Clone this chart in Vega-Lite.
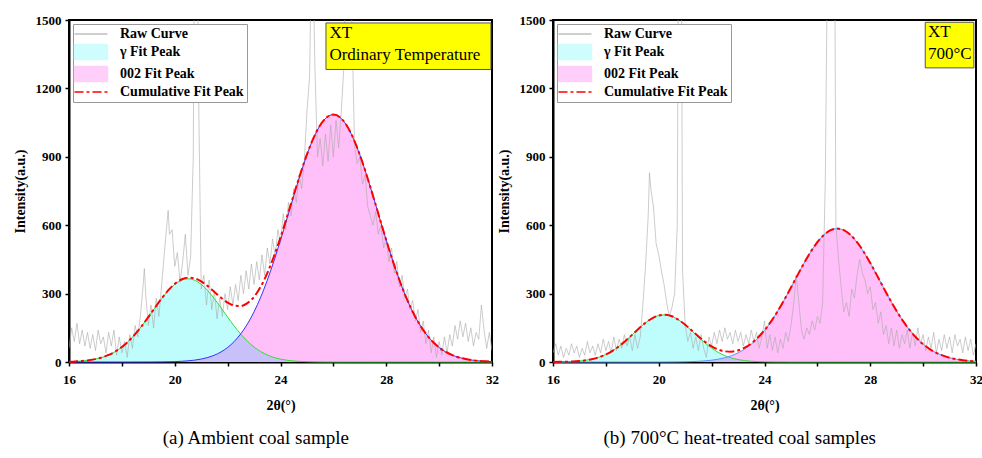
{
 "$schema": "https://vega.github.io/schema/vega-lite/v6.json",
 "padding": {"left": 12, "top": 13, "right": 0, "bottom": 0},
 "config": {
  "font": "Liberation Serif",
  "view": {"stroke": "black", "strokeWidth": 2},
  "axis": {"labelFont": "Liberation Serif", "labelFontWeight": "bold", "labelFontSize": 13, "labelColor": "black", "titleFont": "Liberation Serif", "titleFontWeight": "bold", "titleFontSize": 14, "titleColor": "black", "domainColor": "black", "domainWidth": 2, "tickColor": "black", "tickWidth": 1.5, "tickSize": 4, "grid": false, "labelPadding": 4},
  "axisX": {"labelPadding": 7, "titlePadding": 12},
  "legend": {"labelFont": "Liberation Serif", "labelFontWeight": "bold", "labelFontSize": 14, "labelColor": "black", "strokeColor": "#999999", "fillColor": "white", "padding": 3, "orient": "top-left", "offset": 4, "symbolSize": 1089, "rowPadding": 0, "labelOffset": 22, "symbolOffset": 8}
 },
 "datasets": {
  "fitA": [
   {"x":16,"g":1.4,"p":0,"c":1.4,"o":0},{"x":16.25,"g":2.6,"p":0,"c":2.6,"o":0},{"x":16.5,"g":4.5,"p":0,"c":4.5,"o":0},{"x":16.75,"g":7.7,"p":0,"c":7.7,"o":0},
   {"x":17,"g":12.7,"p":0,"c":12.7,"o":0},{"x":17.25,"g":20.1,"p":0,"c":20.1,"o":0},{"x":17.5,"g":30.9,"p":0,"c":30.9,"o":0},{"x":17.75,"g":45.8,"p":0,"c":45.8,"o":0},
   {"x":18,"g":65.7,"p":0,"c":65.7,"o":0},{"x":18.25,"g":91,"p":0,"c":91,"o":0},{"x":18.5,"g":121.8,"p":0.1,"c":121.9,"o":0.1},{"x":18.75,"g":157.6,"p":0.1,"c":157.7,"o":0.1},
   {"x":19,"g":196.9,"p":0.2,"c":197.1,"o":0.2},{"x":19.25,"g":237.8,"p":0.3,"c":238.1,"o":0.3},{"x":19.5,"g":277.4,"p":0.6,"c":278,"o":0.6},{"x":19.75,"g":312.8,"p":1,"c":313.8,"o":1},
   {"x":20,"g":340.8,"p":1.8,"c":342.6,"o":1.8},{"x":20.25,"g":358.8,"p":3.1,"c":361.9,"o":3.1},{"x":20.5,"g":365,"p":5.1,"c":370.1,"o":5.1},{"x":20.75,"g":358.8,"p":8.2,"c":367,"o":8.2},
   {"x":21,"g":340.8,"p":12.9,"c":353.7,"o":12.9},{"x":21.25,"g":312.8,"p":19.9,"c":332.7,"o":19.9},{"x":21.5,"g":277.4,"p":30,"c":307.4,"o":30},{"x":21.75,"g":237.8,"p":44.2,"c":282,"o":44.2},
   {"x":22,"g":196.9,"p":63.8,"c":260.7,"o":63.8},{"x":22.25,"g":157.6,"p":89.9,"c":247.5,"o":89.9},{"x":22.5,"g":121.8,"p":123.9,"c":245.7,"o":121.8},{"x":22.75,"g":91,"p":167.1,"c":258.1,"o":91},
   {"x":23,"g":65.7,"p":220.3,"c":286,"o":65.7},{"x":23.25,"g":45.8,"p":284.2,"c":330,"o":45.8},{"x":23.5,"g":30.9,"p":358.6,"c":389.5,"o":30.9},{"x":23.75,"g":20.1,"p":442.6,"c":462.7,"o":20.1},
   {"x":24,"g":12.7,"p":534.2,"c":546.9,"o":12.7},{"x":24.25,"g":7.7,"p":630.7,"c":638.4,"o":7.7},{"x":24.5,"g":4.5,"p":728.4,"c":732.9,"o":4.5},{"x":24.75,"g":2.6,"p":822.6,"c":825.2,"o":2.6},
   {"x":25,"g":1.4,"p":908.9,"c":910.3,"o":1.4},{"x":25.25,"g":0.7,"p":982.1,"c":982.8,"o":0.7},{"x":25.5,"g":0.4,"p":1038,"c":1038.4,"o":0.4},{"x":25.75,"g":0.2,"p":1073.1,"c":1073.3,"o":0.2},
   {"x":26,"g":0,"p":1085,"c":1085,"o":0},{"x":26.25,"g":0,"p":1073.1,"c":1073.1,"o":0},{"x":26.5,"g":0,"p":1038,"c":1038,"o":0},{"x":26.75,"g":0,"p":982.1,"c":982.1,"o":0},
   {"x":27,"g":0,"p":908.9,"c":908.9,"o":0},{"x":27.25,"g":0,"p":822.6,"c":822.6,"o":0},{"x":27.5,"g":0,"p":728.4,"c":728.4,"o":0},{"x":27.75,"g":0,"p":630.7,"c":630.7,"o":0},
   {"x":28,"g":0,"p":534.2,"c":534.2,"o":0},{"x":28.25,"g":0,"p":442.6,"c":442.6,"o":0},{"x":28.5,"g":0,"p":358.6,"c":358.6,"o":0},{"x":28.75,"g":0,"p":284.2,"c":284.2,"o":0},
   {"x":29,"g":0,"p":220.3,"c":220.3,"o":0},{"x":29.25,"g":0,"p":167.1,"c":167.1,"o":0},{"x":29.5,"g":0,"p":123.9,"c":123.9,"o":0},{"x":29.75,"g":0,"p":89.9,"c":89.9,"o":0},
   {"x":30,"g":0,"p":63.8,"c":63.8,"o":0},{"x":30.25,"g":0,"p":44.2,"c":44.2,"o":0},{"x":30.5,"g":0,"p":30,"c":30,"o":0},{"x":30.75,"g":0,"p":19.9,"c":19.9,"o":0},
   {"x":31,"g":0,"p":12.9,"c":12.9,"o":0},{"x":31.25,"g":0,"p":8.2,"c":8.2,"o":0},{"x":31.5,"g":0,"p":5.1,"c":5.1,"o":0},{"x":31.75,"g":0,"p":3.1,"c":3.1,"o":0},
   {"x":32,"g":0,"p":1.8,"c":1.8,"o":0}
  ],
  "fitB": [
   {"x":16,"g":0.3,"p":0,"c":0.3,"o":0},{"x":16.25,"g":0.6,"p":0,"c":0.6,"o":0},{"x":16.5,"g":1.2,"p":0,"c":1.2,"o":0},{"x":16.75,"g":2.3,"p":0,"c":2.3,"o":0},
   {"x":17,"g":4.3,"p":0,"c":4.3,"o":0},{"x":17.25,"g":7.7,"p":0,"c":7.7,"o":0},{"x":17.5,"g":13.2,"p":0,"c":13.2,"o":0},{"x":17.75,"g":21.4,"p":0,"c":21.4,"o":0},
   {"x":18,"g":33.2,"p":0,"c":33.2,"o":0},{"x":18.25,"g":49.2,"p":0,"c":49.2,"o":0},{"x":18.5,"g":69.4,"p":0,"c":69.4,"o":0},{"x":18.75,"g":93.5,"p":0,"c":93.5,"o":0},
   {"x":19,"g":120.1,"p":0,"c":120.1,"o":0},{"x":19.25,"g":147.2,"p":0,"c":147.2,"o":0},{"x":19.5,"g":172,"p":0,"c":172,"o":0},{"x":19.75,"g":191.7,"p":0,"c":191.7,"o":0},
   {"x":20,"g":203.9,"p":0.1,"c":204,"o":0.1},{"x":20.25,"g":206.8,"p":0.2,"c":207,"o":0.2},{"x":20.5,"g":200.1,"p":0.3,"c":200.4,"o":0.3},{"x":20.75,"g":184.6,"p":0.6,"c":185.2,"o":0.6},
   {"x":21,"g":162.5,"p":1.1,"c":163.6,"o":1.1},{"x":21.25,"g":136.4,"p":1.8,"c":138.2,"o":1.8},{"x":21.5,"g":109.3,"p":3.1,"c":112.4,"o":3.1},{"x":21.75,"g":83.5,"p":5,"c":88.5,"o":5},
   {"x":22,"g":60.8,"p":8,"c":68.8,"o":8},{"x":22.25,"g":42.3,"p":12.4,"c":54.7,"o":12.4},{"x":22.5,"g":28,"p":18.8,"c":46.8,"o":18.8},{"x":22.75,"g":17.7,"p":27.8,"c":45.5,"o":17.7},
   {"x":23,"g":10.7,"p":40.1,"c":50.8,"o":10.7},{"x":23.25,"g":6.1,"p":56.7,"c":62.8,"o":6.1},{"x":23.5,"g":3.4,"p":78.2,"c":81.6,"o":3.4},{"x":23.75,"g":1.8,"p":105.4,"c":107.2,"o":1.8},
   {"x":24,"g":0.9,"p":138.5,"c":139.4,"o":0.9},{"x":24.25,"g":0.4,"p":177.9,"c":178.3,"o":0.4},{"x":24.5,"g":0.2,"p":223.1,"c":223.3,"o":0.2},{"x":24.75,"g":0.1,"p":273.1,"c":273.2,"o":0.1},
   {"x":25,"g":0,"p":326.4,"c":326.4,"o":0},{"x":25.25,"g":0,"p":381.1,"c":381.1,"o":0},{"x":25.5,"g":0,"p":434.4,"c":434.4,"o":0},{"x":25.75,"g":0,"p":483.6,"c":483.6,"o":0},
   {"x":26,"g":0,"p":525.6,"c":525.6,"o":0},{"x":26.25,"g":0,"p":557.8,"c":557.8,"o":0},{"x":26.5,"g":0,"p":578.1,"c":578.1,"o":0},{"x":26.75,"g":0,"p":585,"c":585,"o":0},
   {"x":27,"g":0,"p":578.1,"c":578.1,"o":0},{"x":27.25,"g":0,"p":557.8,"c":557.8,"o":0},{"x":27.5,"g":0,"p":525.6,"c":525.6,"o":0},{"x":27.75,"g":0,"p":483.6,"c":483.6,"o":0},
   {"x":28,"g":0,"p":434.4,"c":434.4,"o":0},{"x":28.25,"g":0,"p":381.1,"c":381.1,"o":0},{"x":28.5,"g":0,"p":326.4,"c":326.4,"o":0},{"x":28.75,"g":0,"p":273.1,"c":273.1,"o":0},
   {"x":29,"g":0,"p":223.1,"c":223.1,"o":0},{"x":29.25,"g":0,"p":177.9,"c":177.9,"o":0},{"x":29.5,"g":0,"p":138.5,"c":138.5,"o":0},{"x":29.75,"g":0,"p":105.4,"c":105.4,"o":0},
   {"x":30,"g":0,"p":78.2,"c":78.2,"o":0},{"x":30.25,"g":0,"p":56.7,"c":56.7,"o":0},{"x":30.5,"g":0,"p":40.1,"c":40.1,"o":0},{"x":30.75,"g":0,"p":27.8,"c":27.8,"o":0},
   {"x":31,"g":0,"p":18.8,"c":18.8,"o":0},{"x":31.25,"g":0,"p":12.4,"c":12.4,"o":0},{"x":31.5,"g":0,"p":8,"c":8,"o":0},{"x":31.75,"g":0,"p":5,"c":5,"o":0},
   {"x":32,"g":0,"p":3.1,"c":3.1,"o":0}
  ],
  "rawA": [
   {"x":16.0,"y":60},{"x":16.1,"y":150},{"x":16.2,"y":90},{"x":16.3,"y":170},{"x":16.4,"y":80},{"x":16.5,"y":140},{"x":16.6,"y":70},{"x":16.7,"y":130},{"x":16.8,"y":60},{"x":16.9,"y":120},
   {"x":17.0,"y":50},{"x":17.1,"y":140},{"x":17.2,"y":80},{"x":17.3,"y":110},{"x":17.4,"y":40},{"x":17.5,"y":130},{"x":17.6,"y":70},{"x":17.7,"y":140},{"x":17.8,"y":30},{"x":17.9,"y":110},
   {"x":18.0,"y":40},{"x":18.1,"y":90},{"x":18.2,"y":20},{"x":18.3,"y":120},{"x":18.4,"y":60},{"x":18.5,"y":160},{"x":18.6,"y":110},{"x":18.7,"y":200},{"x":18.8,"y":330},{"x":18.85,"y":410},{"x":18.9,"y":300},
   {"x":19.0,"y":160},{"x":19.1,"y":250},{"x":19.2,"y":150},{"x":19.3,"y":280},{"x":19.4,"y":200},{"x":19.5,"y":330},{"x":19.6,"y":470},{"x":19.7,"y":600},{"x":19.75,"y":665},{"x":19.8,"y":560},{"x":19.9,"y":580},
   {"x":20.0,"y":420},{"x":20.1,"y":480},{"x":20.2,"y":350},{"x":20.3,"y":440},{"x":20.4,"y":560},{"x":20.5,"y":380},{"x":20.6,"y":460},{"x":20.7,"y":900},{"x":20.75,"y":2000},{"x":20.85,"y":2000},{"x":20.9,"y":1200},
   {"x":21.0,"y":320},{"x":21.1,"y":380},{"x":21.2,"y":250},{"x":21.3,"y":360},{"x":21.4,"y":230},{"x":21.5,"y":310},{"x":21.6,"y":190},{"x":21.7,"y":280},{"x":21.8,"y":200},{"x":21.9,"y":300},
   {"x":22.0,"y":230},{"x":22.1,"y":330},{"x":22.2,"y":250},{"x":22.3,"y":340},{"x":22.4,"y":270},{"x":22.5,"y":380},{"x":22.6,"y":300},{"x":22.7,"y":400},{"x":22.8,"y":320},{"x":22.9,"y":430},
   {"x":23.0,"y":340},{"x":23.1,"y":440},{"x":23.2,"y":360},{"x":23.3,"y":470},{"x":23.4,"y":380},{"x":23.5,"y":500},{"x":23.6,"y":430},{"x":23.7,"y":540},{"x":23.8,"y":460},{"x":23.9,"y":580},
   {"x":24.0,"y":520},{"x":24.1,"y":650},{"x":24.2,"y":580},{"x":24.3,"y":700},{"x":24.4,"y":640},{"x":24.5,"y":760},{"x":24.6,"y":700},{"x":24.7,"y":820},{"x":24.8,"y":760},{"x":24.9,"y":880},
   {"x":25.0,"y":1100},{"x":25.1,"y":1250},{"x":25.2,"y":2000},{"x":25.3,"y":1300},{"x":25.4,"y":900},{"x":25.5,"y":980},{"x":25.6,"y":860},{"x":25.7,"y":1000},{"x":25.8,"y":880},{"x":25.9,"y":1040},
   {"x":26.0,"y":900},{"x":26.1,"y":1060},{"x":26.2,"y":940},{"x":26.3,"y":1100},{"x":26.4,"y":1300},{"x":26.5,"y":2000},{"x":26.6,"y":2000},{"x":26.7,"y":1500},{"x":26.8,"y":950},{"x":26.9,"y":870},
   {"x":27.0,"y":900},{"x":27.1,"y":780},{"x":27.2,"y":820},{"x":27.3,"y":680},{"x":27.4,"y":640},{"x":27.5,"y":600},{"x":27.6,"y":660},{"x":27.7,"y":560},{"x":27.8,"y":600},{"x":27.9,"y":500},
   {"x":28.0,"y":540},{"x":28.1,"y":440},{"x":28.2,"y":500},{"x":28.3,"y":390},{"x":28.4,"y":440},{"x":28.5,"y":330},{"x":28.6,"y":380},{"x":28.7,"y":280},{"x":28.8,"y":320},{"x":28.9,"y":230},
   {"x":29.0,"y":270},{"x":29.1,"y":180},{"x":29.2,"y":230},{"x":29.3,"y":130},{"x":29.4,"y":180},{"x":29.5,"y":80},{"x":29.6,"y":140},{"x":29.7,"y":40},{"x":29.8,"y":110},{"x":29.9,"y":20},
   {"x":30.0,"y":90},{"x":30.1,"y":30},{"x":30.2,"y":110},{"x":30.3,"y":40},{"x":30.4,"y":120},{"x":30.5,"y":70},{"x":30.6,"y":160},{"x":30.7,"y":100},{"x":30.8,"y":180},{"x":30.9,"y":110},
   {"x":31.0,"y":170},{"x":31.1,"y":90},{"x":31.2,"y":150},{"x":31.3,"y":70},{"x":31.4,"y":130},{"x":31.5,"y":100},{"x":31.6,"y":250},{"x":31.7,"y":140},{"x":31.8,"y":60},{"x":31.9,"y":130},{"x":32.0,"y":50}
  ],
  "rawB": [
   {"x":16.0,"y":40},{"x":16.1,"y":80},{"x":16.2,"y":30},{"x":16.3,"y":70},{"x":16.4,"y":20},{"x":16.5,"y":60},{"x":16.6,"y":30},{"x":16.7,"y":80},{"x":16.8,"y":40},{"x":16.9,"y":70},
   {"x":17.0,"y":20},{"x":17.1,"y":60},{"x":17.2,"y":30},{"x":17.3,"y":90},{"x":17.4,"y":40},{"x":17.5,"y":70},{"x":17.6,"y":30},{"x":17.7,"y":80},{"x":17.8,"y":40},{"x":17.9,"y":100},
   {"x":18.0,"y":50},{"x":18.1,"y":90},{"x":18.2,"y":40},{"x":18.3,"y":110},{"x":18.4,"y":50},{"x":18.5,"y":100},{"x":18.6,"y":60},{"x":18.7,"y":120},{"x":18.8,"y":70},{"x":18.9,"y":110},
   {"x":19.0,"y":50},{"x":19.1,"y":120},{"x":19.2,"y":60},{"x":19.3,"y":110},{"x":19.4,"y":250},{"x":19.5,"y":420},{"x":19.6,"y":640},{"x":19.65,"y":830},{"x":19.7,"y":760},{"x":19.8,"y":680},{"x":19.9,"y":520},
   {"x":20.0,"y":470},{"x":20.1,"y":400},{"x":20.2,"y":340},{"x":20.3,"y":260},{"x":20.4,"y":200},{"x":20.5,"y":240},{"x":20.6,"y":300},{"x":20.7,"y":600},{"x":20.75,"y":2000},{"x":20.85,"y":2000},{"x":20.9,"y":400},
   {"x":21.0,"y":160},{"x":21.1,"y":90},{"x":21.2,"y":130},{"x":21.3,"y":60},{"x":21.4,"y":110},{"x":21.5,"y":50},{"x":21.6,"y":120},{"x":21.7,"y":60},{"x":21.8,"y":20},{"x":21.9,"y":110},
   {"x":22.0,"y":70},{"x":22.1,"y":130},{"x":22.2,"y":80},{"x":22.3,"y":140},{"x":22.4,"y":90},{"x":22.5,"y":150},{"x":22.6,"y":100},{"x":22.7,"y":130},{"x":22.8,"y":80},{"x":22.9,"y":140},
   {"x":23.0,"y":90},{"x":23.1,"y":130},{"x":23.2,"y":70},{"x":23.3,"y":120},{"x":23.4,"y":80},{"x":23.5,"y":140},{"x":23.6,"y":90},{"x":23.7,"y":130},{"x":23.8,"y":60},{"x":23.9,"y":110},
   {"x":24.0,"y":180},{"x":24.1,"y":60},{"x":24.2,"y":120},{"x":24.3,"y":50},{"x":24.4,"y":110},{"x":24.5,"y":40},{"x":24.6,"y":100},{"x":24.7,"y":60},{"x":24.8,"y":130},{"x":24.9,"y":90},
   {"x":25.0,"y":160},{"x":25.1,"y":250},{"x":25.2,"y":380},{"x":25.3,"y":260},{"x":25.4,"y":140},{"x":25.5,"y":100},{"x":25.6,"y":150},{"x":25.7,"y":120},{"x":25.8,"y":180},{"x":25.9,"y":140},
   {"x":26.0,"y":200},{"x":26.1,"y":170},{"x":26.2,"y":260},{"x":26.3,"y":800},{"x":26.4,"y":2000},{"x":26.65,"y":2000},{"x":26.7,"y":600},{"x":26.8,"y":450},{"x":26.9,"y":330},
   {"x":27.0,"y":220},{"x":27.1,"y":260},{"x":27.2,"y":200},{"x":27.3,"y":320},{"x":27.4,"y":280},{"x":27.5,"y":380},{"x":27.6,"y":450},{"x":27.7,"y":390},{"x":27.8,"y":360},{"x":27.9,"y":300},
   {"x":28.0,"y":330},{"x":28.1,"y":230},{"x":28.2,"y":260},{"x":28.3,"y":170},{"x":28.4,"y":220},{"x":28.5,"y":120},{"x":28.6,"y":160},{"x":28.7,"y":80},{"x":28.8,"y":150},{"x":28.9,"y":70},
   {"x":29.0,"y":140},{"x":29.1,"y":60},{"x":29.2,"y":120},{"x":29.3,"y":80},{"x":29.4,"y":140},{"x":29.5,"y":60},{"x":29.6,"y":130},{"x":29.7,"y":70},{"x":29.8,"y":150},{"x":29.9,"y":80},
   {"x":30.0,"y":120},{"x":30.1,"y":50},{"x":30.2,"y":110},{"x":30.3,"y":60},{"x":30.4,"y":130},{"x":30.5,"y":40},{"x":30.6,"y":100},{"x":30.7,"y":50},{"x":30.8,"y":120},{"x":30.9,"y":60},
   {"x":31.0,"y":110},{"x":31.1,"y":40},{"x":31.2,"y":120},{"x":31.3,"y":70},{"x":31.4,"y":100},{"x":31.5,"y":40},{"x":31.6,"y":110},{"x":31.7,"y":50},{"x":31.8,"y":100},{"x":31.9,"y":30},{"x":32.0,"y":80}
  ]
 },
 "spacing": -4,
 "resolve": {"scale": {"color": "independent"}, "legend": {"color": "independent"}},
 "hconcat": [
  {
   "width": 423, "height": 342,
   "title": {"text": "(a) Ambient coal sample", "orient": "bottom", "anchor": "middle", "frame": "bounds", "font": "Liberation Serif", "fontSize": 19, "fontWeight": "normal", "color": "black", "offset": 17},
   "layer": [
    {"data": {"name": "fitA"}, "mark": {"type": "area", "interpolate": "monotone"},
     "encoding": {
      "x": {"field": "x", "type": "quantitative", "title": "2θ(°)", "scale": {"domain": [16, 32], "nice": false},
            "axis": {"values": [16,18,20,22,24,26,28,30,32], "labelExpr": "datum.value % 4 === 0 ? datum.label : ''", "labelFlush": false}},
      "y": {"field": "g", "type": "quantitative", "title": "Intensity(a.u.)", "scale": {"domain": [0, 1500], "nice": false},
            "axis": {"values": [0,150,300,450,600,750,900,1050,1200,1350,1500], "labelExpr": "datum.value % 300 === 0 ? datum.label : ''", "format": "d", "titlePadding": 8}},
      "color": {"datum": "γ Fit Peak", "type": "nominal",
                "scale": {"domain": ["Raw Curve", "γ Fit Peak", "002 Fit Peak", "Cumulative Fit Peak"], "range": ["#aaaaaa", "#bffcfc", "#ffbff8", "#ff0000"]},
                "legend": {"title": null,
                  "symbolType": {"expr": "(datum.value === 'γ Fit Peak' || datum.value === '002 Fit Peak') ? 'M-1,-0.46H1V0.46H-1Z' : 'stroke'"},
                  "symbolStrokeColor": {"expr": "datum.value === 'Raw Curve' ? '#c4c4c4' : datum.value === 'γ Fit Peak' ? '#44ee66' : datum.value === '002 Fit Peak' ? '#4444ff' : '#ff0000'"},
                  "symbolFillColor": {"expr": "datum.value === 'γ Fit Peak' ? '#bffcfc' : datum.value === '002 Fit Peak' ? '#ffbff8' : 'transparent'"},
                  "symbolDash": {"expr": "datum.value === 'Cumulative Fit Peak' ? [9, 3, 3, 3] : [1, 0]"},
                  "symbolStrokeWidth": {"expr": "datum.value === 'Cumulative Fit Peak' ? 2 : 1.5"},
                  "symbolOpacity": 1}}
     }},
    {"data": {"name": "fitA"}, "mark": {"type": "area", "interpolate": "monotone"},
     "encoding": {"x": {"field": "x", "type": "quantitative", "title": "2θ(°)"}, "y": {"field": "p", "type": "quantitative", "title": "Intensity(a.u.)", "scale": {"domain": [0, 1500]}}, "color": {"datum": "002 Fit Peak", "type": "nominal"}}},
    {"data": {"name": "fitA"}, "mark": {"type": "area", "interpolate": "monotone", "color": "#c8c0f8"},
     "encoding": {"x": {"field": "x", "type": "quantitative", "title": "2θ(°)"}, "y": {"field": "o", "type": "quantitative", "title": "Intensity(a.u.)", "scale": {"domain": [0, 1500]}}}},
    {"data": {"name": "rawA"}, "mark": {"type": "line", "clip": true, "strokeWidth": 0.8, "opacity": 0.75},
     "encoding": {"x": {"field": "x", "type": "quantitative", "title": "2θ(°)"}, "y": {"field": "y", "type": "quantitative", "title": "Intensity(a.u.)", "scale": {"domain": [0, 1500]}}, "color": {"datum": "Raw Curve", "type": "nominal"}}},
    {"data": {"name": "fitA"}, "mark": {"type": "line", "interpolate": "monotone", "color": "#33dd33", "strokeWidth": 1},
     "encoding": {"x": {"field": "x", "type": "quantitative", "title": "2θ(°)"}, "y": {"field": "g", "type": "quantitative", "title": "Intensity(a.u.)", "scale": {"domain": [0, 1500]}}}},
    {"data": {"name": "fitA"}, "mark": {"type": "line", "interpolate": "monotone", "color": "#3333ff", "strokeWidth": 1},
     "encoding": {"x": {"field": "x", "type": "quantitative", "title": "2θ(°)"}, "y": {"field": "p", "type": "quantitative", "title": "Intensity(a.u.)", "scale": {"domain": [0, 1500]}}}},
    {"data": {"name": "fitA"}, "mark": {"type": "line", "interpolate": "monotone", "strokeWidth": 2, "strokeDash": [9, 3, 3, 3]},
     "encoding": {"x": {"field": "x", "type": "quantitative", "title": "2θ(°)"}, "y": {"field": "c", "type": "quantitative", "title": "Intensity(a.u.)", "scale": {"domain": [0, 1500]}}, "color": {"datum": "Cumulative Fit Peak", "type": "nominal"}}},
    {"data": {"values": [{"label": "annotation"}]}, "mark": {"type": "rect", "fill": "#ffff00", "stroke": "#555555", "strokeWidth": 1},
     "encoding": {"x": {"datum": 25.72, "type": "quantitative"}, "x2": {"datum": 31.96}, "y": {"datum": 1487, "type": "quantitative"}, "y2": {"datum": 1283}}},
    {"data": {"values": [{"label": "annotation"}]}, "mark": {"type": "text", "align": "left", "baseline": "top", "font": "Liberation Serif", "fontSize": 17, "lineHeight": 22, "color": "black"},
     "encoding": {"x": {"datum": 25.85, "type": "quantitative"}, "y": {"datum": 1480, "type": "quantitative"}, "text": {"value": ["XT", "Ordinary Temperature"]}}}
   ]
  },
  {
   "width": 423, "height": 342,
   "title": {"text": "(b) 700°C heat-treated coal samples", "orient": "bottom", "anchor": "middle", "frame": "bounds", "font": "Liberation Serif", "fontSize": 19, "fontWeight": "normal", "color": "black", "offset": 17},
   "layer": [
    {"data": {"name": "fitB"}, "mark": {"type": "area", "interpolate": "monotone"},
     "encoding": {
      "x": {"field": "x", "type": "quantitative", "title": "2θ(°)", "scale": {"domain": [16, 32], "nice": false},
            "axis": {"values": [16,18,20,22,24,26,28,30,32], "labelExpr": "datum.value % 4 === 0 ? datum.label : ''", "labelFlush": false}},
      "y": {"field": "g", "type": "quantitative", "title": "Intensity(a.u.)", "scale": {"domain": [0, 1500], "nice": false},
            "axis": {"values": [0,150,300,450,600,750,900,1050,1200,1350,1500], "labelExpr": "datum.value % 300 === 0 ? datum.label : ''", "format": "d", "titlePadding": 8}},
      "color": {"datum": "γ Fit Peak", "type": "nominal",
                "scale": {"domain": ["Raw Curve", "γ Fit Peak", "002 Fit Peak", "Cumulative Fit Peak"], "range": ["#aaaaaa", "#bffcfc", "#ffbff8", "#ff0000"]},
                "legend": {"title": null,
                  "symbolType": {"expr": "(datum.value === 'γ Fit Peak' || datum.value === '002 Fit Peak') ? 'M-1,-0.46H1V0.46H-1Z' : 'stroke'"},
                  "symbolStrokeColor": {"expr": "datum.value === 'Raw Curve' ? '#c4c4c4' : datum.value === 'γ Fit Peak' ? '#44ee66' : datum.value === '002 Fit Peak' ? '#5588ee' : '#ff0000'"},
                  "symbolFillColor": {"expr": "datum.value === 'γ Fit Peak' ? '#bffcfc' : datum.value === '002 Fit Peak' ? '#ffbff8' : 'transparent'"},
                  "symbolDash": {"expr": "datum.value === 'Cumulative Fit Peak' ? [9, 3, 3, 3] : [1, 0]"},
                  "symbolStrokeWidth": {"expr": "datum.value === 'Cumulative Fit Peak' ? 2 : 1.5"},
                  "symbolOpacity": 1}}
     }},
    {"data": {"name": "fitB"}, "mark": {"type": "area", "interpolate": "monotone"},
     "encoding": {"x": {"field": "x", "type": "quantitative", "title": "2θ(°)"}, "y": {"field": "p", "type": "quantitative", "title": "Intensity(a.u.)", "scale": {"domain": [0, 1500]}}, "color": {"datum": "002 Fit Peak", "type": "nominal"}}},
    {"data": {"name": "fitB"}, "mark": {"type": "area", "interpolate": "monotone", "color": "#c8c0f8"},
     "encoding": {"x": {"field": "x", "type": "quantitative", "title": "2θ(°)"}, "y": {"field": "o", "type": "quantitative", "title": "Intensity(a.u.)", "scale": {"domain": [0, 1500]}}}},
    {"data": {"name": "rawB"}, "mark": {"type": "line", "clip": true, "strokeWidth": 0.8, "opacity": 0.75},
     "encoding": {"x": {"field": "x", "type": "quantitative", "title": "2θ(°)"}, "y": {"field": "y", "type": "quantitative", "title": "Intensity(a.u.)", "scale": {"domain": [0, 1500]}}, "color": {"datum": "Raw Curve", "type": "nominal"}}},
    {"data": {"name": "fitB"}, "mark": {"type": "line", "interpolate": "monotone", "color": "#33dd33", "strokeWidth": 1},
     "encoding": {"x": {"field": "x", "type": "quantitative", "title": "2θ(°)"}, "y": {"field": "g", "type": "quantitative", "title": "Intensity(a.u.)", "scale": {"domain": [0, 1500]}}}},
    {"data": {"name": "fitB"}, "mark": {"type": "line", "interpolate": "monotone", "color": "#5599ff", "strokeWidth": 1},
     "encoding": {"x": {"field": "x", "type": "quantitative", "title": "2θ(°)"}, "y": {"field": "p", "type": "quantitative", "title": "Intensity(a.u.)", "scale": {"domain": [0, 1500]}}}},
    {"data": {"name": "fitB"}, "mark": {"type": "line", "interpolate": "monotone", "strokeWidth": 2, "strokeDash": [9, 3, 3, 3]},
     "encoding": {"x": {"field": "x", "type": "quantitative", "title": "2θ(°)"}, "y": {"field": "c", "type": "quantitative", "title": "Intensity(a.u.)", "scale": {"domain": [0, 1500]}}, "color": {"datum": "Cumulative Fit Peak", "type": "nominal"}}},
    {"data": {"values": [{"label": "annotation"}]}, "mark": {"type": "rect", "fill": "#ffff00", "stroke": "#555555", "strokeWidth": 1},
     "encoding": {"x": {"datum": 30.08, "type": "quantitative"}, "x2": {"datum": 31.92}, "y": {"datum": 1490, "type": "quantitative"}, "y2": {"datum": 1290}}},
    {"data": {"values": [{"label": "annotation"}]}, "mark": {"type": "text", "align": "left", "baseline": "top", "font": "Liberation Serif", "fontSize": 17, "lineHeight": 22, "color": "black"},
     "encoding": {"x": {"datum": 30.18, "type": "quantitative"}, "y": {"datum": 1483, "type": "quantitative"}, "text": {"value": ["XT", "700°C"]}}}
   ]
  }
 ]
}
